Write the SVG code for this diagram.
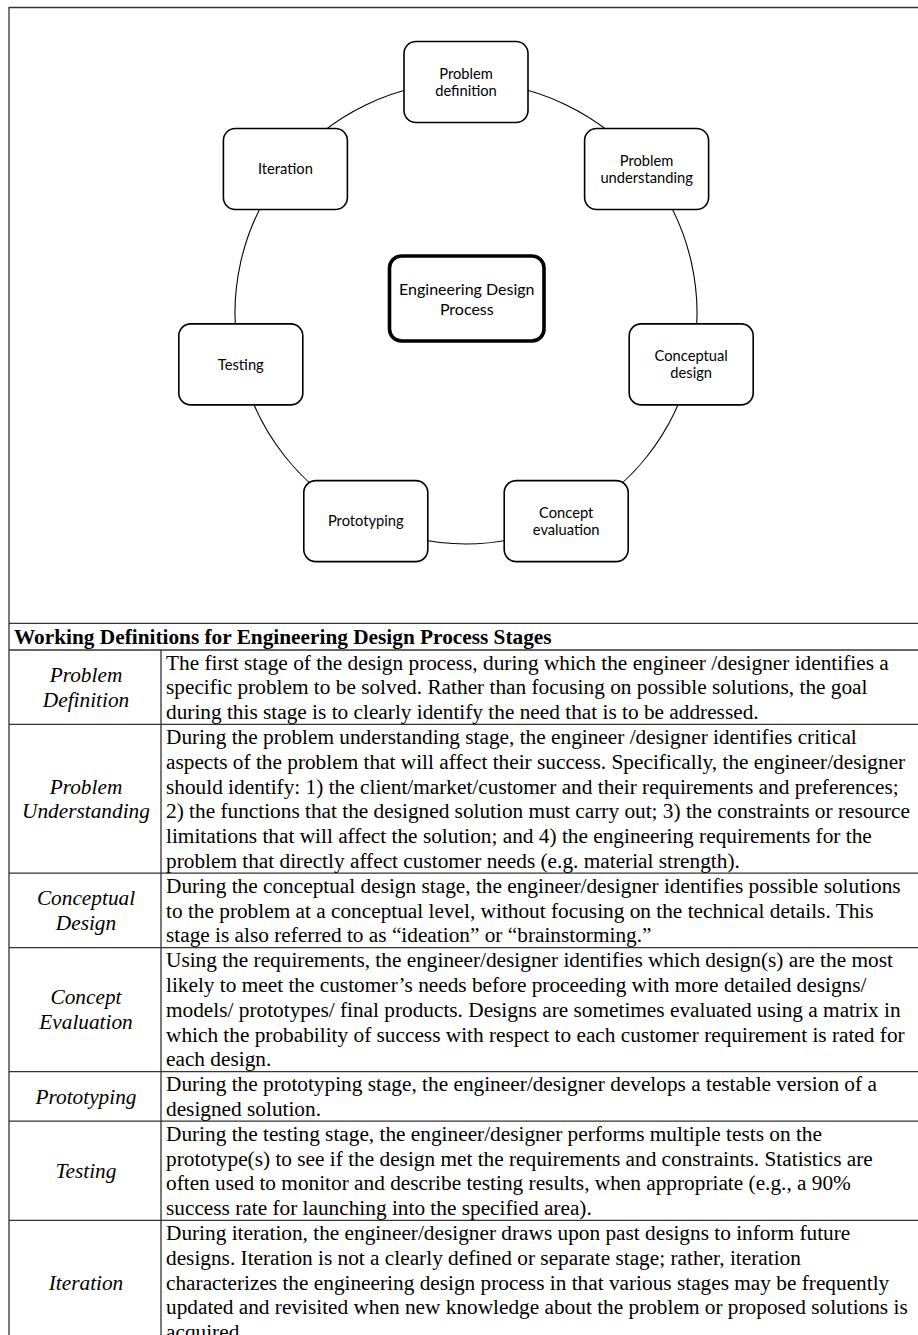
<svg xmlns="http://www.w3.org/2000/svg" width="918" height="1335" viewBox="0 0 918 1335">
<style>
.bg{fill:#ffffff}
.frame{fill:none;stroke:#333333;stroke-width:1.3}
.node rect{fill:#ffffff;stroke:#000000;stroke-width:1.6}
.node text{font-family:Lato,"Open Sans",sans-serif;font-size:14.7px;fill:#000000;text-anchor:middle}
#center rect{stroke-width:3.6}
#center text{font-size:16px}
.arc{fill:none;stroke:#000000;stroke-width:1.1}
.hd{font-family:"Liberation Serif","Times New Roman",serif;font-size:21.3px;font-weight:bold;fill:#000000}
.lbl{font-family:"Liberation Serif","Times New Roman",serif;font-size:21.3px;font-style:italic;fill:#000000;text-anchor:middle}
.txt{font-family:"Liberation Serif","Times New Roman",serif;font-size:21.3px;fill:#000000}
</style>
<rect class="bg" x="0" y="0" width="918" height="1335"/>

<g id="frame">
<path class="frame" d="M930,7.5 H9 V1340"/>
</g>

<g id="connectors">
<path class="arc" d="M466,82 A231,231 0 0 1 646.6,169"/>
<path class="arc" d="M646.6,169 A231,231 0 0 1 691.2,364.4"/>
<path class="arc" d="M691.2,364.4 A231,231 0 0 1 566.2,521.1"/>
<path class="arc" d="M566.2,521.1 A231,231 0 0 1 365.8,521.1"/>
<path class="arc" d="M365.8,521.1 A231,231 0 0 1 240.8,364.4"/>
<path class="arc" d="M240.8,364.4 A231,231 0 0 1 285.4,169"/>
<path class="arc" d="M285.4,169 A231,231 0 0 1 466,82"/>
</g>

<g id="problem-definition" class="node">
<rect x="404" y="41.5" width="124" height="81" rx="12"/>
<text x="466" y="79">Problem</text>
<text x="466" y="96">definition</text>
</g>
<g id="problem-understanding" class="node">
<rect x="584.6" y="128.5" width="124" height="81" rx="12"/>
<text x="646.6" y="166">Problem</text>
<text x="646.6" y="183">understanding</text>
</g>
<g id="conceptual-design" class="node">
<rect x="629.2" y="323.9" width="124" height="81" rx="12"/>
<text x="691.2" y="361">Conceptual</text>
<text x="691.2" y="378">design</text>
</g>
<g id="concept-evaluation" class="node">
<rect x="504.2" y="480.6" width="124" height="81" rx="12"/>
<text x="566.2" y="518">Concept</text>
<text x="566.2" y="535">evaluation</text>
</g>
<g id="prototyping" class="node">
<rect x="303.8" y="480.6" width="124" height="81" rx="12"/>
<text x="365.8" y="526">Prototyping</text>
</g>
<g id="testing" class="node">
<rect x="178.8" y="323.9" width="124" height="81" rx="12"/>
<text x="240.8" y="369.5">Testing</text>
</g>
<g id="iteration" class="node">
<rect x="223.4" y="128.5" width="124" height="81" rx="12"/>
<text x="285.4" y="174">Iteration</text>
</g>
<g id="center" class="node">
<rect x="389.5" y="256" width="154.5" height="85" rx="12"/>
<text x="466.8" y="295">Engineering Design</text>
<text x="466.8" y="315">Process</text>
</g>

<g id="table">
<path class="frame" d="M9,623.3 H930 M9,650 H930 M9,724.4 H930 M9,873.2 H930 M9,947.6 H930 M9,1071.6 H930 M9,1121.2 H930 M9,1220.4 H930 M161,650 V1340"/>
<text class="hd" x="14" y="644">Working Definitions for Engineering Design Process Stages</text>

<text class="lbl" x="86" y="682">Problem</text>
<text class="lbl" x="86" y="706.8">Definition</text>
<text class="txt" x="166" y="669.6">The first stage of the design process, during which the engineer /designer identifies a</text>
<text class="txt" x="166" y="694.4">specific problem to be solved. Rather than focusing on possible solutions, the goal</text>
<text class="txt" x="166" y="719.2">during this stage is to clearly identify the need that is to be addressed.</text>

<text class="lbl" x="86" y="793.6">Problem</text>
<text class="lbl" x="86" y="818.4">Understanding</text>
<text class="txt" x="166" y="744">During the problem understanding stage, the engineer /designer identifies critical</text>
<text class="txt" x="166" y="768.8">aspects of the problem that will affect their success. Specifically, the engineer/designer</text>
<text class="txt" x="166" y="793.6">should identify: 1) the client/market/customer and their requirements and preferences;</text>
<text class="txt" x="166" y="818.4">2) the functions that the designed solution must carry out; 3) the constraints or resource</text>
<text class="txt" x="166" y="843.2">limitations that will affect the solution; and 4) the engineering requirements for the</text>
<text class="txt" x="166" y="868">problem that directly affect customer needs (e.g. material strength).</text>

<text class="lbl" x="86" y="905.2">Conceptual</text>
<text class="lbl" x="86" y="930">Design</text>
<text class="txt" x="166" y="892.8">During the conceptual design stage, the engineer/designer identifies possible solutions</text>
<text class="txt" x="166" y="917.6">to the problem at a conceptual level, without focusing on the technical details. This</text>
<text class="txt" x="166" y="942.4">stage is also referred to as “ideation” or “brainstorming.”</text>

<text class="lbl" x="86" y="1004.4">Concept</text>
<text class="lbl" x="86" y="1029.2">Evaluation</text>
<text class="txt" x="166" y="967.2">Using the requirements, the engineer/designer identifies which design(s) are the most</text>
<text class="txt" x="166" y="992">likely to meet the customer’s needs before proceeding with more detailed designs/</text>
<text class="txt" x="166" y="1016.8">models/ prototypes/ final products. Designs are sometimes evaluated using a matrix in</text>
<text class="txt" x="166" y="1041.6">which the probability of success with respect to each customer requirement is rated for</text>
<text class="txt" x="166" y="1066.4">each design.</text>

<text class="lbl" x="86" y="1103.6">Prototyping</text>
<text class="txt" x="166" y="1091.2">During the prototyping stage, the engineer/designer develops a testable version of a</text>
<text class="txt" x="166" y="1116">designed solution.</text>

<text class="lbl" x="86" y="1178">Testing</text>
<text class="txt" x="166" y="1140.8">During the testing stage, the engineer/designer performs multiple tests on the</text>
<text class="txt" x="166" y="1165.6">prototype(s) to see if the design met the requirements and constraints. Statistics are</text>
<text class="txt" x="166" y="1190.4">often used to monitor and describe testing results, when appropriate (e.g., a 90%</text>
<text class="txt" x="166" y="1215.2">success rate for launching into the specified area).</text>

<text class="lbl" x="86" y="1289.6">Iteration</text>
<text class="txt" x="166" y="1240">During iteration, the engineer/designer draws upon past designs to inform future</text>
<text class="txt" x="166" y="1264.8">designs. Iteration is not a clearly defined or separate stage; rather, iteration</text>
<text class="txt" x="166" y="1289.6">characterizes the engineering design process in that various stages may be frequently</text>
<text class="txt" x="166" y="1314.4">updated and revisited when new knowledge about the problem or proposed solutions is</text>
<text class="txt" x="166" y="1339.2">acquired.</text>
</g>
</svg>
